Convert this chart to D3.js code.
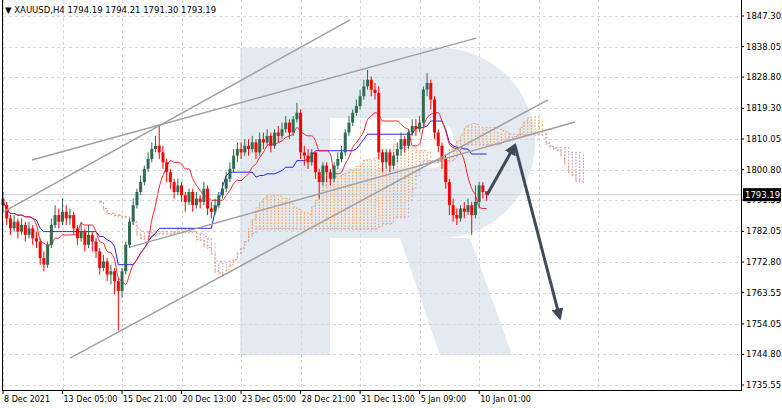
<!DOCTYPE html>
<html><head><meta charset="utf-8">
<script src="https://cdn.jsdelivr.net/npm/d3@7"></script>
<style>body{margin:0;background:#fff}svg{font-family:"DejaVu Sans",sans-serif}</style>
</head><body><svg id="c" width="782" height="408"></svg>
<script>
const closes=[1790,1786,1783,1785,1782,1784,1781,1783,1780,1779,1774,1772,1778,1784,1787,1785,1788,1786,1787,1783,1780,1782,1778,1781,1779,1776,1771,1773,1769,1770,1767,1764,1770,1778,1785,1790,1794,1797,1801,1804,1807,1808,1806,1803,1800,1797,1794,1796,1793,1791,1794,1790,1792,1791,1795,1789,1788,1790,1793,1795,1798,1801,1805,1807,1806,1808,1807,1809,1806,1810,1809,1811,1808,1812,1811,1813,1815,1812,1816,1818,1806,1805,1803,1806,1800,1797,1802,1800,1798,1802,1804,1806,1812,1815,1818,1820,1823,1826,1828,1825,1824,1806,1803,1806,1802,1805,1807,1810,1808,1812,1814,1813,1815,1825,1827,1822,1812,1808,1804,1797,1790,1787,1786,1789,1788,1790,1787,1791,1796,1794,1793.19];
const highs=[1794,1791,1787,1787,1786,1786,1785,1785,1784,1782,1780,1776,1779,1786,1790,1789,1792,1790,1789,1788,1784,1785,1783,1784,1782,1780,1777,1775,1774,1772,1771,1768,1771,1779,1786,1792,1795,1799,1802,1806,1809,1811,1814,1808,1804,1801,1798,1798,1797,1794,1795,1795,1794,1793,1797,1796,1791,1792,1794,1797,1800,1803,1807,1809,1809,1810,1810,1811,1810,1812,1812,1813,1812,1813,1814,1815,1817,1816,1817,1821,1819,1808,1807,1807,1806,1801,1803,1803,1801,1803,1806,1808,1813,1817,1819,1822,1825,1828,1831,1829,1827,1826,1807,1807,1807,1806,1809,1812,1811,1813,1816,1816,1817,1826,1830,1828,1823,1813,1809,1805,1798,1792,1789,1790,1791,1792,1791,1796,1797,1797,1794.21];
const lows=[1788,1784,1781,1782,1780,1781,1779,1780,1778,1777,1772,1770,1771,1777,1783,1783,1784,1784,1784,1781,1778,1779,1776,1777,1776,1774,1769,1770,1767,1766,1763,1752,1762,1769,1777,1784,1789,1793,1796,1800,1803,1806,1804,1801,1797,1795,1792,1793,1791,1788,1790,1788,1789,1789,1790,1787,1786,1787,1789,1792,1794,1797,1800,1803,1804,1805,1805,1806,1804,1805,1807,1808,1806,1807,1809,1810,1812,1810,1811,1815,1804,1802,1801,1802,1798,1792,1796,1797,1796,1797,1801,1803,1805,1811,1814,1817,1819,1822,1825,1823,1822,1804,1800,1801,1800,1801,1803,1805,1806,1807,1811,1811,1812,1814,1823,1819,1810,1806,1801,1795,1787,1785,1784,1785,1786,1787,1781,1786,1789,1792,1791.30];
const firstOpen=1792, lastOpen=1794.19;
const priceTicks=[1847.30,1838.05,1828.80,1819.30,1810.05,1800.80,1791.55,1782.05,1772.80,1763.55,1754.05,1744.80,1735.55];
const timeLabels=["8 Dec 2021","13 Dec 05:00","15 Dec 21:00","20 Dec 13:00","23 Dec 05:00","28 Dec 21:00","31 Dec 13:00","5 Jan 09:00","10 Jan 01:00"];
const timeLabelIdx=[0,16,32,48,64,80,96,112,128];
const trendLines=[[18,1743.7,146.5,1821.9],[0,1787.9,93.3,1846.1],[7.8,1803.7,127.2,1840.6],[34.1,1777.3,153.8,1815.2]];
const arrows=[[130.1,1793.1,137.6,1808.2],[137.6,1808.2,149.7,1755.8]];

const svg=d3.select("#c");
const x=d3.scaleLinear().domain([0,1]).range([3,6.72]);
const y=d3.scaleLinear().domain([1735.55,1847.30]).range([385,16]);
const W=741,H=390;
const opens=closes.map((c,i)=>i===0?firstOpen:(i===closes.length-1?lastOpen:closes[i-1]));

const g0=svg.append("g").attr("fill","#e4eaf2");
g0.append("path").attr("d","M240,48 H440 A95,95 0 0 1 440,238 H330 V355 H240 Z M330,118 V168 H430 A25,25 0 0 0 430,118 Z").attr("fill-rule","evenodd");
g0.append("path").attr("d","M400,238 H470 L512,355 H440 Z");

const grid=svg.append("g").attr("stroke","#d6d6d6").attr("stroke-dasharray","3,3");
priceTicks.forEach(p=>grid.append("line").attr("x1",3).attr("x2",W).attr("y1",Math.round(y(p))+.5).attr("y2",Math.round(y(p))+.5));
d3.range(0,11).forEach(k=>{const xx=Math.round(x(k*16))+.5; if(xx<W) grid.append("line").attr("x1",xx).attr("x2",xx).attr("y1",0).attr("y2",H);});

function mid(arrH,arrL,i,n){const s=Math.max(0,i-n+1);return (d3.max(arrH.slice(s,i+1))+d3.min(arrL.slice(s,i+1)))/2;}
const tenkan=closes.map((_,i)=>mid(highs,lows,i,9));
const kijun=closes.map((_,i)=>mid(highs,lows,i,26));
const spanA=closes.map((_,i)=>({i:i+26,a:(tenkan[i]+kijun[i])/2,b:mid(highs,lows,i,52)}));
const cloud=svg.append("g");
spanA.forEach(d=>{
  const top=Math.max(d.a,d.b),bot=Math.min(d.a,d.b);
  const col=d.a>=d.b?"#f5a25a":"#c9a3cc";
  for(let p=bot;p<=top;p+=0.9){cloud.append("rect").attr("x",x(d.i)-.5).attr("y",y(p)).attr("width",1.2).attr("height",1.6).attr("fill",col);}
});
const lineA=d3.line().x(d=>x(d.i)).y(d=>y(d.a)).curve(d3.curveStepAfter);
const lineB=d3.line().x(d=>x(d.i)).y(d=>y(d.b)).curve(d3.curveStepAfter);
svg.append("path").attr("d",lineA(spanA)).attr("fill","none").attr("stroke","#f5a25a").attr("stroke-dasharray","2,2");
svg.append("path").attr("d",lineB(spanA)).attr("fill","none").attr("stroke","#c9a3cc").attr("stroke-dasharray","2,2");
svg.append("path").attr("d",d3.line().x((d,i)=>x(i)).y(d=>y(d))(kijun)).attr("fill","none").attr("stroke","#2222ff").attr("stroke-width",1);
svg.append("path").attr("d",d3.line().x((d,i)=>x(i)).y(d=>y(d)).curve(d3.curveMonotoneX)(tenkan)).attr("fill","none").attr("stroke","#ff2020").attr("stroke-width",1);

svg.append("line").attr("x1",3).attr("x2",W).attr("y1",y(1793.19)).attr("y2",y(1793.19)).attr("stroke","#cfcfcf");

const cg=svg.append("g");
closes.forEach((c,i)=>{
  const o=opens[i],up=c>=o,xx=x(i);
  const col=up?"#2e6b4f":"#ff0000";
  cg.append("line").attr("x1",xx).attr("x2",xx).attr("y1",y(highs[i])).attr("y2",y(lows[i])).attr("stroke",col);
  cg.append("rect").attr("x",xx-1.5).attr("width",3).attr("y",y(Math.max(o,c))).attr("height",Math.max(1,Math.abs(y(o)-y(c)))).attr("fill",col);
});

trendLines.forEach(t=>svg.append("line").attr("x1",x(t[0])).attr("y1",y(t[1])).attr("x2",x(t[2])).attr("y2",y(t[3])).attr("stroke","#a0a0a0").attr("stroke-width",1.5));
svg.append("defs").append("marker").attr("id","ah").attr("viewBox","0 0 10 10").attr("refX",8).attr("refY",5).attr("markerWidth",4).attr("markerHeight",4).attr("orient","auto").append("path").attr("d","M0,0 L10,5 L0,10 z").attr("fill","#3d4b5a");
arrows.forEach(a=>svg.append("line").attr("x1",x(a[0])).attr("y1",y(a[1])).attr("x2",x(a[2])).attr("y2",y(a[3])).attr("stroke","#3d4b5a").attr("stroke-width",3).attr("marker-end","url(#ah)"));

svg.append("rect").attr("x",W).attr("y",0).attr("width",782-W).attr("height",408).attr("fill","#fff");
svg.append("rect").attr("x",0).attr("y",H).attr("width",782).attr("height",18).attr("fill","#fff");
svg.append("line").attr("x1",2.5).attr("x2",2.5).attr("y1",0).attr("y2",H).attr("stroke","#000");
svg.append("line").attr("x1",W+.5).attr("x2",W+.5).attr("y1",0).attr("y2",H).attr("stroke","#000");
svg.append("line").attr("x1",2).attr("x2",W+1).attr("y1",H+.5).attr("y2",H+.5).attr("stroke","#000");

const ax=svg.append("g").attr("font-size",8.5).attr("fill","#000");
priceTicks.forEach(p=>{ax.append("line").attr("x1",W).attr("x2",W+3).attr("y1",y(p)).attr("y2",y(p)).attr("stroke","#000");
  ax.append("text").attr("x",W+5).attr("y",y(p)+3).text(p.toFixed(2));});
svg.append("rect").attr("x",W+2).attr("y",y(1793.19)-6.5).attr("width",38).attr("height",13).attr("fill","#000");
svg.append("text").attr("x",W+4).attr("y",y(1793.19)+3.5).attr("font-size",8.5).attr("fill","#fff").text("1793.19");
timeLabels.forEach((t,k)=>{const xx=x(timeLabelIdx[k]);
  ax.append("line").attr("x1",xx).attr("x2",xx).attr("y1",H).attr("y2",H+4).attr("stroke","#000");
  ax.append("text").attr("x",xx+1).attr("y",H+12).attr("font-size",8).text(t);});
svg.append("text").attr("x",5).attr("y",13).attr("font-size",8.5).text("▼ XAUUSD,H4  1794.19 1794.21 1791.30 1793.19");
</script></body></html>
